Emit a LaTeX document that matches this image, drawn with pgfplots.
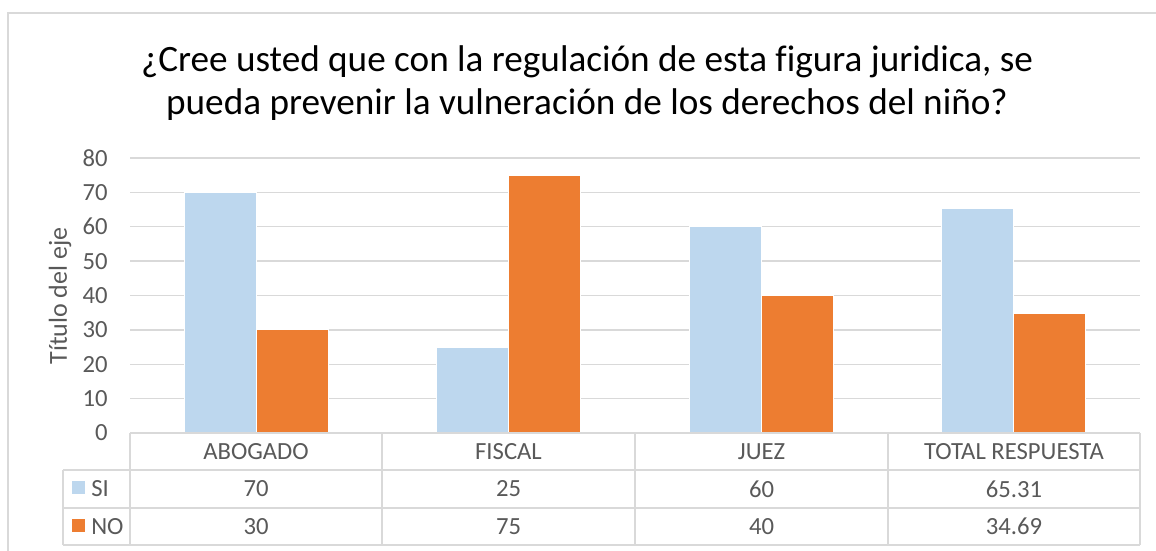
\documentclass[border=0pt]{standalone}
\usepackage{fontspec}
\setmainfont{Carlito}[Ligatures=NoCommon]
\usepackage{pgfplots}
\pgfplotsset{compat=1.18}
\definecolor{siC}{HTML}{BDD7EE}
\definecolor{noC}{HTML}{ED7D31}
\definecolor{gridC}{HTML}{D9D9D9}
\definecolor{txt}{HTML}{595959}
\begin{document}
\begin{tikzpicture}
\useasboundingbox (0,0) rectangle (867pt,412.5pt);
\begin{axis}[
  at={(97.5pt,87.75pt)}, anchor=south west,
  scale only axis, width=757.5pt, height=206.25pt,
  xmin=-0.5, xmax=3.5, ymin=0, ymax=80,
  ytick={0,10,...,80}, xtick=\empty,
  ymajorgrids, grid style={gridC, line width=1.1pt},
  axis line style={draw=none},
  major tick style={draw=none},
  /pgf/number format/assume math mode=true,
  yticklabel style={font=\fontsize{18.5}{18.5}\selectfont, text=txt, inner sep=0pt, xshift=-16.5pt},
  ybar, bar width=54pt,
]
\addplot[fill=siC, draw=white, line width=0.6pt, bar shift=-27pt] coordinates {(0,70) (1,25) (2,60) (3,65.31)};
\addplot[fill=noC, draw=white, line width=0.6pt, bar shift=27pt] coordinates {(0,30) (1,75) (2,40) (3,34.69)};
\end{axis}
\begin{scope}[x=0.75pt,y=0.75pt]
  % outer frame
  \draw[gridC, line width=0.9pt] (8,-5) -- (8,537) -- (1160,537);
  % title
  \node[font=\fontsize{27.9}{27.9}\selectfont, text=black] at (587,488) {¿Cree usted que con la regulación de esta figura juridica, se};
  \node[font=\fontsize{27.9}{27.9}\selectfont, text=black] at (587,445) {pueda prevenir la vulneración de los derechos del niño?};
  % y label
  \node[font=\fontsize{19.5}{19.5}\selectfont, text=txt, rotate=90] at (60,254) {Título del eje};
  % table lines
  \begin{scope}[draw=gridC, line width=1.1pt]
    \draw (130,117) -- (1140,117);
    \draw (63,80) -- (1140,80);
    \draw (63,42) -- (1140,42);
    \draw (63,5) -- (1140,5);
    \draw (63,80) -- (63,5);
    \foreach \xx in {130,382,635,888,1140} { \draw (\xx,117) -- (\xx,5); }
  \end{scope}
  \begin{scope}[font=\fontsize{18.5}{18.5}\selectfont, text=txt]
    \node at (256,98.5) {ABOGADO};
    \node at (508.5,98.5) {FISCAL};
    \node at (761.5,98.5) {JUEZ};
    \node at (1014,98.5) {TOTAL RESPUESTA};
    \node at (256,61) {70};
    \node at (508.5,61) {25};
    \node at (761.5,61) {60};
    \node at (1014,61) {65.31};
    \node at (256,23.5) {30};
    \node at (508.5,23.5) {75};
    \node at (761.5,23.5) {40};
    \node at (1014,23.5) {34.69};
    \fill[siC] (72,56) rectangle (85,69);
    \fill[noC] (72,18) rectangle (85,31);
    \node[anchor=west, inner sep=0pt] at (91,61) {SI};
    \node[anchor=west, inner sep=0pt] at (91,23.5) {NO};
  \end{scope}
\end{scope}
\end{tikzpicture}
\end{document}
